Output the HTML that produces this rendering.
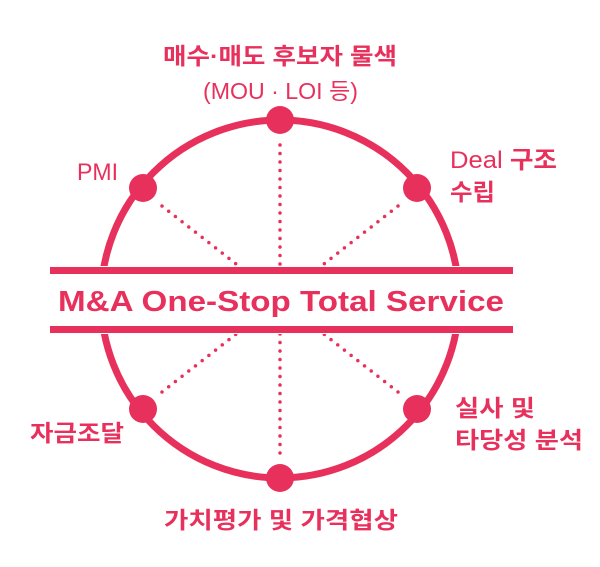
<!DOCTYPE html>
<html><head><meta charset="utf-8"><style>
html,body{margin:0;padding:0;background:#fff;}
svg{display:block;}
text{font-family:"Liberation Sans","Noto Sans CJK KR",sans-serif;fill:#e8305c;}
.k{font-weight:bold;}
</style></head><body>
<svg width="600" height="567" viewBox="0 0 600 567" xmlns="http://www.w3.org/2000/svg">
<g stroke="#e8305c" fill="none">
<circle cx="280" cy="299" r="179" stroke-width="7"/>
<g stroke-width="3.5" stroke-linecap="round" stroke-dasharray="0 8.5">
<line x1="280" y1="145" x2="280" y2="266"/>
<line x1="280" y1="334" x2="280" y2="455"/>
<line x1="162" y1="206" x2="240" y2="267"/>
<line x1="398" y1="206" x2="320" y2="267"/>
<line x1="162" y1="392" x2="240" y2="331"/>
<line x1="398" y1="392" x2="320" y2="331"/>
</g>
</g>
<rect x="50" y="266" width="463" height="8" fill="#fff"/>
<rect x="50" y="326" width="463" height="8" fill="#fff"/>
<rect x="50" y="267" width="463" height="7" fill="#e8305c"/>
<rect x="50" y="326" width="463" height="7" fill="#e8305c"/>
<rect x="94" y="274" width="372" height="52" fill="#fff"/>
<g fill="#e8305c">
<circle cx="280" cy="120" r="14"/>
<circle cx="143" cy="188" r="14"/>
<circle cx="417" cy="188" r="14"/>
<circle cx="143" cy="409" r="14"/>
<circle cx="417" cy="409" r="14"/>
<circle cx="280" cy="478" r="14"/>
</g>
<text x="58" y="311" font-size="29" font-weight="bold" textLength="446" lengthAdjust="spacingAndGlyphs">M&amp;A One-Stop Total Service</text>
<text class="k" x="163" y="64" font-size="23" textLength="234" lengthAdjust="spacingAndGlyphs">매수·매도 후보자 물색</text>
<text x="203" y="99" font-size="23" textLength="155" lengthAdjust="spacingAndGlyphs">(MOU · LOI 등)</text>
<text x="77" y="180" font-size="24" textLength="41" lengthAdjust="spacingAndGlyphs">PMI</text>
<text x="450" y="168" font-size="24" textLength="107" lengthAdjust="spacingAndGlyphs">Deal <tspan class="k">구조</tspan></text>
<text class="k" x="450" y="200" font-size="23" textLength="45" lengthAdjust="spacingAndGlyphs">수립</text>
<text class="k" x="30" y="441" font-size="23" textLength="94" lengthAdjust="spacingAndGlyphs">자금조달</text>
<text class="k" x="455" y="416" font-size="23" textLength="80" lengthAdjust="spacingAndGlyphs">실사 및</text>
<text class="k" x="455" y="448" font-size="23" textLength="128" lengthAdjust="spacingAndGlyphs">타당성 분석</text>
<text class="k" x="164" y="528" font-size="23" textLength="234" lengthAdjust="spacingAndGlyphs">가치평가 및 가격협상</text>
</svg>
</body></html>
